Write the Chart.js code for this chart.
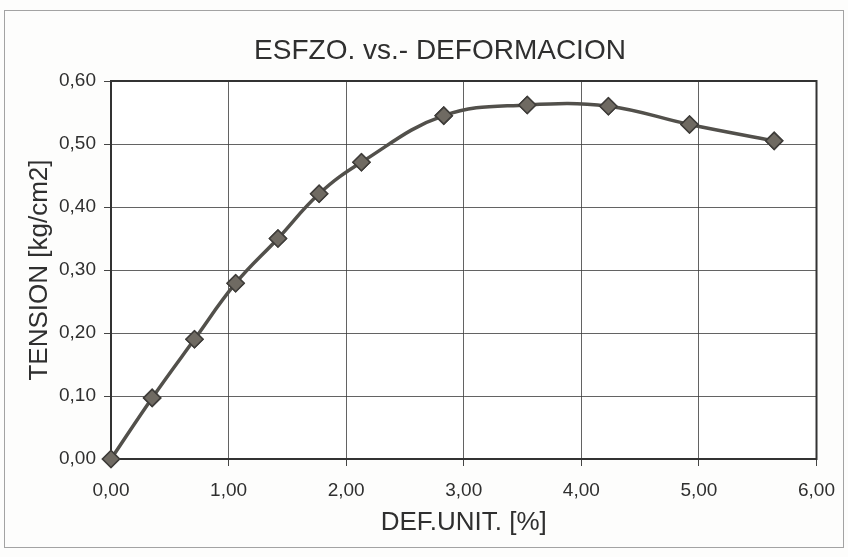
<!DOCTYPE html>
<html>
<head>
<meta charset="utf-8">
<script src="https://cdn.jsdelivr.net/npm/chart.js@4/dist/chart.umd.min.js"></script>
<style>
  html, body { margin: 0; padding: 0; background: #fdfdfc; }
  #wrap { width: 848px; height: 557px; position: relative; }
</style>
</head>
<body>
<div id="wrap"><canvas id="c" width="848" height="557"></canvas></div>
<script>
// ---- data ----
const chartTitle = 'ESFZO. vs.- DEFORMACION';
const xAxisTitle = 'DEF.UNIT. [%]';
const yAxisTitle = 'TENSION [kg/cm2]';
const strain = [0, 0.35, 0.71, 1.06, 1.42, 1.77, 2.13, 2.83, 3.54, 4.23, 4.92, 5.64];
const stress = [0, 0.097, 0.190, 0.279, 0.350, 0.421, 0.471, 0.545, 0.562, 0.560, 0.531, 0.505];
const xTickLabels = ['0,00', '1,00', '2,00', '3,00', '4,00', '5,00', '6,00'];
const yTickLabels = ['0,00', '0,10', '0,20', '0,30', '0,40', '0,50', '0,60'];

const points = strain.map((x, i) => ({ x: x, y: stress[i] }));
const FONT = "'Liberation Sans', Arial, sans-serif";
const TXT = '#2f2f2f';

const framePlugin = {
  id: 'frame',
  beforeDraw(chart) {
    const ctx = chart.ctx, a = chart.chartArea;
    ctx.save();
    ctx.fillStyle = '#ffffff';
    ctx.fillRect(a.left, a.top, a.right - a.left, a.bottom - a.top);
    // outer page frame of the scan
    ctx.strokeStyle = 'rgba(90,90,90,0.55)';
    ctx.lineWidth = 1;
    ctx.strokeRect(4.5, 10.5, 839, 537);
    ctx.restore();
  },
  afterDatasetsDraw(chart) {
    const ctx = chart.ctx, a = chart.chartArea;
    ctx.save();
    ctx.strokeStyle = '#333333';
    ctx.lineWidth = 2;
    ctx.strokeRect(a.left, a.top, a.right - a.left, a.bottom - a.top);
    ctx.restore();
    // redraw markers on top of the frame
    const meta = chart.getDatasetMeta(0);
    meta.data.forEach(p => p.draw(ctx));
  },
  afterDraw(chart) {
    const ctx = chart.ctx;
    ctx.save();
    ctx.fillStyle = TXT;
    ctx.font = "28px " + FONT;
    ctx.textAlign = 'center';
    ctx.textBaseline = 'middle';
    ctx.fillText(chartTitle, 440, 51);
    ctx.restore();
  }
};

new Chart(document.getElementById('c'), {
  type: 'scatter',
  data: {
    datasets: [{
      data: points,
      showLine: true,
      clip: false,
      borderColor: '#52504b',
      borderWidth: 3.5,
      tension: 0.4,
      pointStyle: 'rectRot',
      pointRadius: 8.5,
      pointHoverRadius: 8.5,
      pointBackgroundColor: '#6f6a62',
      pointBorderColor: '#3f3d3a',
      pointBorderWidth: 1.5
    }]
  },
  options: {
    responsive: false,
    animation: false,
    events: [],
    layout: { padding: { left: 0, right: 29, top: 81, bottom: 0 } },
    plugins: {
      legend: { display: false },
      tooltip: { enabled: false },
      title: { display: false }
    },
    scales: {
      x: {
        type: 'linear',
        min: 0, max: 6,
        afterFit: s => { s.height = 98; },
        ticks: {
          stepSize: 1,
          padding: 13,
          color: TXT,
          font: { family: FONT, size: 19 },
          callback: (v, i) => xTickLabels[i]
        },
        grid: {
          color: 'rgba(60,60,60,0.8)',
          lineWidth: 1,
          borderDash: [6, 2],
          tickLength: 7,
          tickColor: '#444',
          tickBorderDash: []
        },
        border: { display: true, color: '#333', width: 2 },
        title: {
          display: true,
          text: xAxisTitle,
          color: TXT,
          font: { family: FONT, size: 26 },
          padding: { top: 0, bottom: 19 }
        }
      },
      y: {
        type: 'linear',
        min: 0, max: 0.6,
        afterFit: s => { s.width = 111; },
        ticks: {
          stepSize: 0.1,
          padding: 8,
          color: TXT,
          font: { family: FONT, size: 19 },
          callback: (v, i) => yTickLabels[i]
        },
        grid: {
          color: 'rgba(60,60,60,0.8)',
          lineWidth: 1,
          borderDash: [6, 2],
          tickLength: 7,
          tickColor: '#444',
          tickBorderDash: []
        },
        border: { display: true, color: '#333', width: 2 },
        title: {
          display: true,
          text: yAxisTitle,
          color: TXT,
          font: { family: FONT, size: 26 },
          padding: { top: 24, bottom: 0 }
        }
      }
    }
  },
  plugins: [framePlugin]
});
</script>
</body>
</html>
